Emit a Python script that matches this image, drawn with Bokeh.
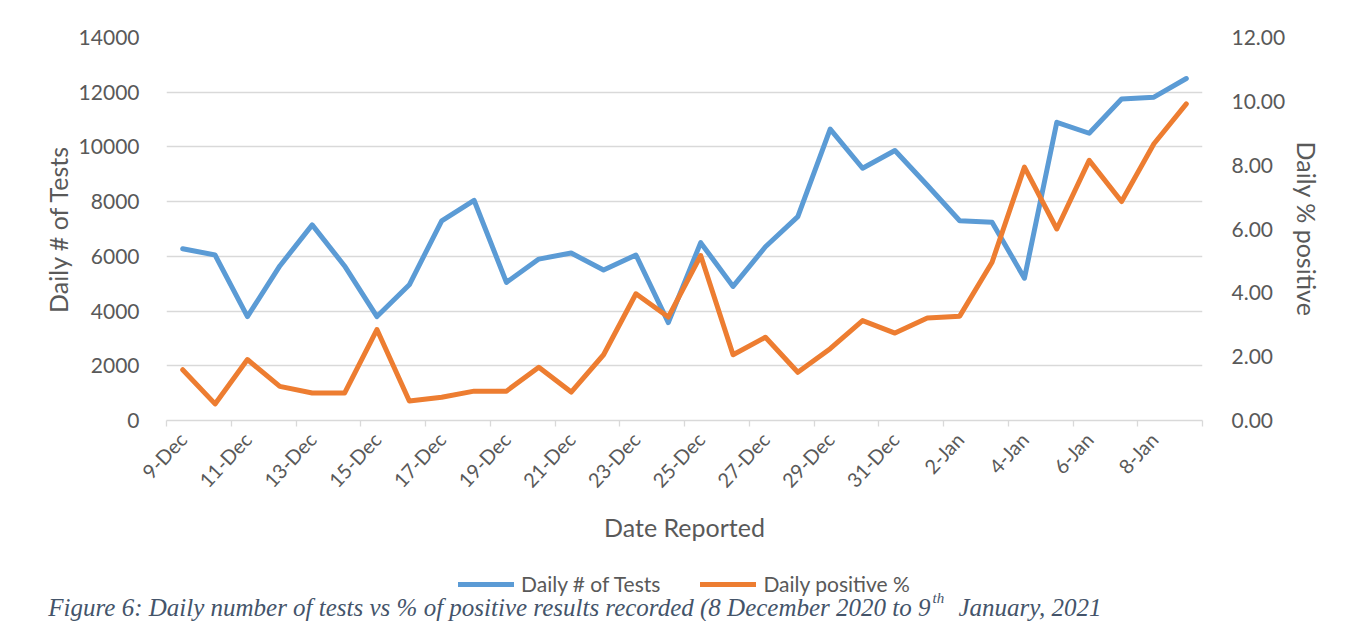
import math
from bokeh.plotting import figure
from bokeh.layouts import column
from bokeh.models import (Range1d, LinearAxis, FixedTicker, SingleIntervalTicker,
                          NumeralTickFormatter, Legend, LegendItem, Label, ColumnDataSource)
from bokeh.embed import file_html
from bokeh.resources import INLINE

# ---------------- data ----------------
dates = ["9-Dec", "10-Dec", "11-Dec", "12-Dec", "13-Dec", "14-Dec", "15-Dec", "16-Dec",
         "17-Dec", "18-Dec", "19-Dec", "20-Dec", "21-Dec", "22-Dec", "23-Dec", "24-Dec",
         "25-Dec", "26-Dec", "27-Dec", "28-Dec", "29-Dec", "30-Dec", "31-Dec", "1-Jan",
         "2-Jan", "3-Jan", "4-Jan", "5-Jan", "6-Jan", "7-Jan", "8-Jan", "9-Jan"]
daily_tests = [6280, 6050, 3800, 5650, 7150, 5650, 3800, 4960, 7300, 8050, 5050, 5900,
               6120, 5500, 6050, 3580, 6500, 4900, 6350, 7450, 10650, 9220, 9870, 8600,
               7300, 7250, 5200, 10900, 10500, 11750, 11820, 12500]
positive_pct = [1.59, 0.52, 1.91, 1.07, 0.86, 0.86, 2.85, 0.61, 0.73, 0.92, 0.92, 1.67,
                0.89, 2.06, 3.97, 3.24, 5.17, 2.06, 2.61, 1.51, 2.25, 3.13, 2.74, 3.21,
                3.27, 4.96, 7.94, 6.00, 8.15, 6.86, 8.67, 9.92]
series_names = ["Daily # of Tests", "Daily positive %"]
left_title = "Daily # of Tests"
right_title = "Daily % positive"
x_title = "Date Reported"
caption_main = "Figure 6: Daily number of tests vs % of positive results recorded (8 December 2020 to 9"
caption_sup = "th"
caption_end = "January, 2021"

# ---------------- styling ----------------
FONT = "Lato"
GREY = "#595959"
GRID = "#d9d9d9"
BLUE = "#5b9bd5"
ORANGE = "#ed7d31"
W = 1335
H_TOP = 560
H_BOT = 61

n = len(dates)
xpos = [i + 0.5 for i in range(n)]
src = ColumnDataSource(dict(x=xpos, tests=daily_tests, pct=positive_pct))

p = figure(width=W, height=H_TOP, x_range=Range1d(0, n), y_range=Range1d(0, 14000),
           output_backend="svg", toolbar_location=None,
           min_border_left=166, min_border_right=133, min_border_top=37, min_border_bottom=140)
p.frame_align = False
p.outline_line_color = None
p.xgrid.visible = False
p.ygrid.grid_line_color = GRID
p.ygrid.grid_line_width = 1.3

# x axis: labels at every other category, tick marks at category boundaries
label_ticks = [i + 0.5 for i in range(0, n, 2)]
bound_ticks = [float(i) for i in range(0, n + 1, 2)]
xa = p.xaxis[0]
xa.ticker = FixedTicker(ticks=label_ticks, minor_ticks=bound_ticks)
xa.major_label_overrides = {t: lab for t, lab in zip(label_ticks, dates[::2])}
xa.major_tick_in = 0
xa.major_tick_out = 0
xa.minor_tick_in = 0
xa.minor_tick_out = 6
xa.minor_tick_line_color = GRID
xa.minor_tick_line_width = 1.3
xa.axis_line_color = GRID
xa.axis_line_width = 1.3
xa.major_label_orientation = math.radians(47)
xa.major_label_standoff = 9
xa.major_label_text_font = FONT
xa.major_label_text_font_size = "20px"
xa.major_label_text_color = GREY
xa.axis_label = x_title
xa.axis_label_text_font = FONT
xa.axis_label_text_font_size = "25px"
xa.axis_label_text_font_style = "normal"
xa.axis_label_text_color = GREY
xa.axis_label_standoff = 9

# left axis
ya = p.yaxis[0]
ya.ticker = SingleIntervalTicker(interval=2000)
ya.axis_line_color = None
ya.major_tick_line_color = None
ya.major_tick_out = 0
ya.major_tick_in = 0
ya.minor_tick_line_color = None
ya.major_label_standoff = 23
ya.major_label_text_font = FONT
ya.major_label_text_font_size = "21px"
ya.major_label_text_color = GREY
ya.axis_label = left_title
ya.axis_label_text_font = FONT
ya.axis_label_text_font_size = "25px"
ya.axis_label_text_font_style = "normal"
ya.axis_label_text_color = GREY
ya.axis_label_standoff = 3

# right axis
p.extra_y_ranges = {"pct": Range1d(0, 12)}
ra = LinearAxis(y_range_name="pct", ticker=SingleIntervalTicker(interval=2),
                formatter=NumeralTickFormatter(format="0.00"))
ra.axis_line_color = None
ra.major_tick_line_color = None
ra.major_tick_out = 0
ra.major_tick_in = 0
ra.minor_tick_line_color = None
ra.major_label_standoff = 25
ra.major_label_text_font = FONT
ra.major_label_text_font_size = "21px"
ra.major_label_text_color = GREY
ra.axis_label = right_title
ra.axis_label_text_font = FONT
ra.axis_label_text_font_size = "25px"
ra.axis_label_text_font_style = "normal"
ra.axis_label_text_color = GREY
ra.axis_label_standoff = 4
p.add_layout(ra, "right")

# lines
line_kw = dict(line_width=5, line_join="round", line_cap="round")
p.line("x", "tests", source=src, line_color=BLUE, **line_kw)
p.line("x", "pct", source=src, y_range_name="pct", line_color=ORANGE, **line_kw)

# ---------------- bottom strip: legend + caption ----------------
q = figure(width=W, height=H_BOT, x_range=Range1d(0, n), y_range=Range1d(0, 14000),
           output_backend="svg", toolbar_location=None, x_axis_type=None, y_axis_type=None,
           min_border=0, min_border_left=0, min_border_right=0, min_border_top=0,
           min_border_bottom=0)
q.frame_align = False
q.outline_line_color = None
q.grid.visible = False
q.extra_y_ranges = {"pct": Range1d(0, 12)}
l1 = q.line("x", "tests", source=src, line_color=BLUE, visible=False, **line_kw)
l2 = q.line("x", "pct", source=src, y_range_name="pct", line_color=ORANGE, visible=False,
            **line_kw)
legend = Legend(items=[LegendItem(label=series_names[0], renderers=[l1]),
                       LegendItem(label=series_names[1], renderers=[l2])],
                orientation="horizontal", location=(458, 25),
                border_line_color=None, background_fill_alpha=0,
                glyph_width=56, glyph_height=20, label_standoff=7, spacing=40,
                padding=0, margin=0, click_policy="none",
                label_text_font=FONT, label_text_font_size="21px", label_text_color=GREY)
q.add_layout(legend)

cap_kw = dict(x_units="screen", y_units="screen", text_font="Liberation Serif",
              text_font_style="italic", text_color="#44546a", text_baseline="alphabetic")
q.add_layout(Label(x=930, y=14, text=caption_main, text_align="right",
                   text_font_size="25px", **cap_kw))
q.add_layout(Label(x=932, y=24, text=caption_sup, text_align="left",
                   text_font_size="15px", **cap_kw))
q.add_layout(Label(x=958, y=14, text=caption_end, text_align="left",
                   text_font_size="25px", **cap_kw))

layout = column(p, q, spacing=0)
open("out.html", "w").write(file_html(layout, INLINE))
